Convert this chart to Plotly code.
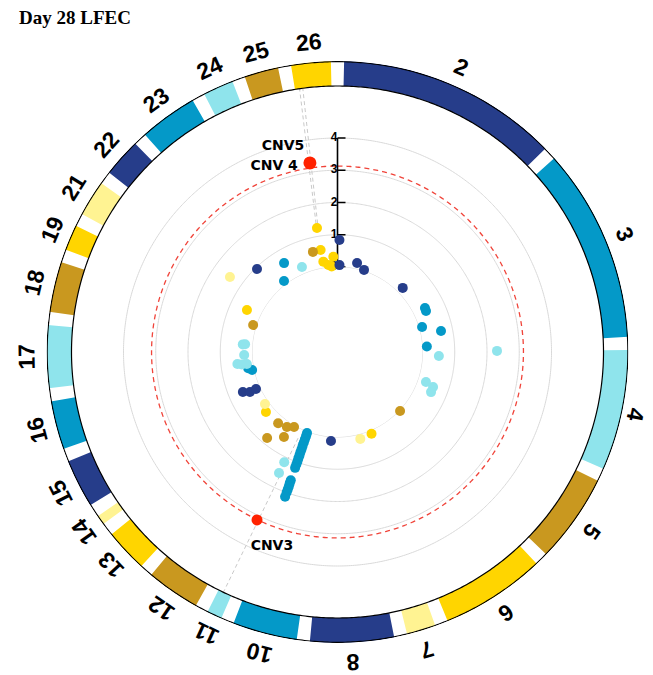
import math
import plotly.graph_objects as go

# ---------------- data ----------------
chroms = ["2", "3", "4", "5", "6", "7", "8", "10", "11", "12", "13", "14",
          "15", "16", "17", "18", "19", "21", "22", "23", "24", "25", "26"]
chrom_len = [44.3, 38.8, 24.1, 17.8, 21.0, 5.8, 16.7, 12.9, 3.0, 10.7, 8.6, 1.9,
             9.7, 9.7, 12.5, 10.1, 5.1, 7.2, 7.7, 11.6, 6.1, 6.8, 7.9]
palette = ["#263D8A", "#0499C8", "#8FE4EC", "#C9981F", "#FFD500", "#FFF392"]

# points: chromosome, genome position (deg), value
pt_chrom = ["26", "26", "26", "26", "26", "26", "25",
            "2", "2", "2", "2", "2",
            "3", "3", "3", "3", "3",
            "4", "4", "4", "4", "4",
            "5", "6", "7", "8",
            "10", "10", "10", "10", "10", "10", "10", "10", "10", "10", "10", "10",
            "10", "10", "10", "10", "10", "10",
            "11", "11",
            "12", "12", "12", "12", "12",
            "13", "14", "15", "15", "15", "16", "16",
            "17", "17", "17", "17", "17", "17",
            "18", "19", "21", "22", "23", "23", "24"]
pt_pos = [350.6, 350.6, 351.1, 354.0, 357.5, 356.1, 346.2,
          1.0, 1.3, 12.4, 17.9, 45.5,
          63.3, 65.1, 73.5, 78.5, 86.5,
          92.3, 89.6, 108.7, 110.1, 113.2,
          133.3, 157.4, 165.3, 184.2,
          200.6, 200.5, 200.5, 200.4, 200.4, 200.3, 200.3, 200.2, 200.2, 200.1, 200.1, 200.1,
          200.0, 200.0, 199.9, 199.9, 199.9, 199.9,
          205.8, 205.8,
          219.8, 214.0, 210.1, 219.3, 212.2,
          230.0, 234.4, 247.1, 245.4, 245.6, 258.1, 259.7,
          274.6, 274.8, 268.2, 263.2, 262.5, 262.6,
          287.7, 294.9, 304.9, 315.9, 329.0, 323.0, 337.3]
pt_value = [1.26, 0.57, 0.20, 0.08, 0.32, 0.02, 0.56,
            0.84, 0.06, 0.19, 0.04, 0.20,
            0.40, 0.39, 0.10, 0.64, 0.14,
            0.51, 2.31, 0.26, 0.52, 0.52,
            0.03, 0.11, 0.15, 0.13,
            0.05, 0.15, 0.25, 0.36, 0.47, 0.58, 0.68, 0.78, 0.88, 0.98, 1.08, 1.19,
            1.60, 1.70, 1.80, 1.90, 2.00, 2.14,
            1.16, 1.53,
            0.24, 0.17, 0.05, 0.81, 0.48,
            0.26, 0.13, 0.55, 0.35, 0.14, 0.07, 0.18,
            0.31, 0.24, 0.26, 0.49, 0.20, 0.36,
            0.11, 0.46, 1.43, 0.95, 0.58, 0.12, 0.22]

cnv_names = ["CNV 4", "CNV3"]
cnv_pos = [351.7, 205.6]
cnv_value = [3.29, 3.14]
cnv_size = [13, 11]

cnv_label_text = ["CNV5", "CNV 4", "CNV3"]
cnv_label_pos = [345.2, 341.1, 198.6]
cnv_label_value = [3.97, 3.43, 3.74]

# connector lines (pos, value) pairs
conn_lines = [
    ([350.5, 351.8], [1.40, 5.61]),
    ([351.2, 352.5], [1.40, 5.61]),
    ([204.6, 205.4], [0.30, 5.61]),
]

threshold = 3.13
grid_values = [0, 1, 2, 3, 4]
tick_values = [0, 1, 2, 3, 4]
tick_labels = ["0", "1", "2", "3", "4"]
title_text = "Day 28 LFEC"

# ---------------- geometry ----------------
PAGE_OFF = 8  # default page margin of the browser
W, H = 653 - PAGE_OFF, 675 - PAGE_OFF
CX, CY = 337.5 - PAGE_OFF, 352.0 - PAGE_OFF
R_OUT = 291.0
R_ZERO = 85.0
PX_PER = 32.25
R_MAX = (R_OUT - R_ZERO) / PX_PER
BAND_IN = (266.0 - R_ZERO) / PX_PER
R_LABEL = 311.0

gap = (360.0 - sum(chrom_len)) / len(chroms)
starts = []
acc = gap / 2
for L in chrom_len:
    starts.append(acc)
    acc += L + gap
centers = [s + L / 2 for s, L in zip(starts, chrom_len)]
chrom_color = {c: palette[i % 6] for i, c in enumerate(chroms)}

circle_theta = [i * 0.5 for i in range(721)]

fig = go.Figure()

# grid circles
for g in grid_values:
    fig.add_trace(go.Scatterpolar(theta=circle_theta, r=[g] * len(circle_theta), mode="lines",
                                  line=dict(color="#d9d9d9", width=1), hoverinfo="skip"))
# threshold
fig.add_trace(go.Scatterpolar(theta=circle_theta, r=[threshold] * len(circle_theta), mode="lines",
                              line=dict(color="#F0443A", width=1.3, dash="5px,4px"), hoverinfo="skip"))
# connector lines
for th, rv in conn_lines:
    fig.add_trace(go.Scatterpolar(theta=th, r=rv, mode="lines",
                                  line=dict(color="#c9c9c9", width=1, dash="4px,3px"), hoverinfo="skip"))

# vertical value axis
fig.add_trace(go.Scatterpolar(theta=[0, 0], r=[min(tick_values), max(tick_values)], mode="lines",
                              line=dict(color="black", width=1.6), hoverinfo="skip"))
tk_t, tk_r = [], []
for v in tick_values:
    R = R_ZERO + PX_PER * v
    rr = math.hypot(R, 8.0)
    tk_t += [0, math.degrees(math.atan2(8.0, R)), None]
    tk_r += [v, (rr - R_ZERO) / PX_PER, None]
fig.add_trace(go.Scatterpolar(theta=tk_t, r=tk_r, mode="lines",
                              line=dict(color="black", width=1.6), hoverinfo="skip"))
fig.add_trace(go.Scatterpolar(theta=[0] * len(tick_values), r=tick_values, mode="text",
                              text=tick_labels, textposition="middle left",
                              textfont=dict(family="Liberation Sans", size=12, color="black", weight="bold"),
                              hoverinfo="skip"))

# chromosome band
fig.add_trace(go.Barpolar(theta=centers, width=chrom_len, base=[BAND_IN] * len(chroms),
                          r=[R_MAX - BAND_IN] * len(chroms),
                          marker=dict(color=[chrom_color[c] for c in chroms], line=dict(width=0)),
                          hoverinfo="skip"))
for rb in (BAND_IN, R_MAX - 0.02):
    fig.add_trace(go.Scatterpolar(theta=circle_theta, r=[rb] * len(circle_theta), mode="lines",
                                  line=dict(color="black", width=1.2), hoverinfo="skip",
                                  cliponaxis=False))

# points
fig.add_trace(go.Scatterpolar(theta=pt_pos, r=pt_value, mode="markers",
                              marker=dict(size=10, color=[chrom_color[c] for c in pt_chrom], line=dict(width=0)),
                              hoverinfo="skip"))
fig.add_trace(go.Scatterpolar(theta=cnv_pos, r=cnv_value, mode="markers",
                              marker=dict(size=cnv_size, color="#FF2200", line=dict(width=0), opacity=1),
                              text=cnv_names, hoverinfo="text"))
fig.add_trace(go.Scatterpolar(theta=cnv_label_pos, r=cnv_label_value, mode="text",
                              text=cnv_label_text, textposition="middle center",
                              textfont=dict(family="DejaVu Sans", size=14, color="black", weight="bold"),
                              hoverinfo="skip"))

fig.update_layout(
    width=W, height=H, showlegend=False,
    margin=dict(l=0, r=0, t=0, b=0),
    paper_bgcolor="white",
    polar=dict(
        domain=dict(x=[(CX - R_OUT) / W, (CX + R_OUT) / W],
                    y=[(H - CY - R_OUT) / H, (H - CY + R_OUT) / H]),
        bgcolor="white",
        hole=R_ZERO / R_OUT,
        bargap=0,
        radialaxis=dict(range=[0, R_MAX], visible=False, showgrid=False),
        angularaxis=dict(rotation=90, direction="clockwise", showgrid=False,
                         showticklabels=False, ticks="", showline=False),
    ),
)

# chromosome labels
for c, th in zip(chroms, centers):
    x = CX + R_LABEL * math.sin(math.radians(th))
    y = CY - R_LABEL * math.cos(math.radians(th))
    ang = th if th <= 180 else th - 360
    xanchor = "center"
    if x + 14 > W:
        x, xanchor = W - 1, "right"
    fig.add_annotation(x=x / W, y=(H - y) / H, xref="paper", yref="paper", text=c,
                       showarrow=False, textangle=ang, xanchor=xanchor, yanchor="middle",
                       font=dict(family="Liberation Sans", size=23, color="black", weight="bold"))

fig.add_annotation(x=(17 - PAGE_OFF) / W, y=1 - (18 - PAGE_OFF) / H, xref="paper", yref="paper",
                   text=title_text, showarrow=False, xanchor="left", yanchor="middle",
                   font=dict(family="Liberation Serif", size=19, color="black", weight="bold"))

fig.write_html("out.html")
